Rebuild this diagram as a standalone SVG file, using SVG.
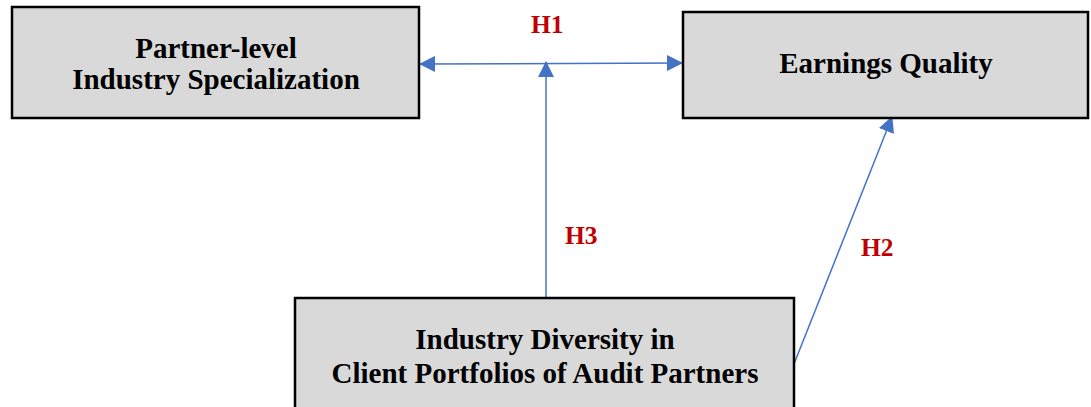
<svg xmlns="http://www.w3.org/2000/svg" width="1091" height="407" viewBox="0 0 1091 407">
<style>
.box{fill:#D9D9D9;stroke:#000;stroke-width:2.5}
.t{font-family:"Liberation Serif","Times New Roman",serif;font-weight:bold;font-size:29px;fill:#000;text-anchor:middle}
.h{font-family:"Liberation Serif","Times New Roman",serif;font-weight:bold;font-size:25.5px;fill:#C00000}
.c{stroke:#4472C4;stroke-width:1.5;fill:none}
</style>
<defs>
<marker id="ah" markerUnits="userSpaceOnUse" markerWidth="16" markerHeight="16" viewBox="0 0 16 16" refX="15" refY="8" orient="auto-start-reverse">
<path d="M0,0 L16,8 L0,16 Z" fill="#4472C4"/>
</marker>
</defs>
<rect width="1091" height="407" fill="#fff"/>
<g id="connectors">
<line class="c" x1="420" y1="64" x2="682" y2="63" marker-start="url(#ah)" marker-end="url(#ah)"/>
<line class="c" x1="546" y1="298" x2="546" y2="62" marker-end="url(#ah)"/>
<line class="c" x1="794" y1="364" x2="892" y2="117" marker-end="url(#ah)"/>
</g>
<g id="labels">
<text class="h" x="531" y="33">H1</text>
<text class="h" x="565" y="244">H3</text>
<text class="h" x="861" y="256">H2</text>
</g>
<g id="node-specialization">
<rect class="box" x="12" y="7" width="407" height="111"/>
<text class="t" x="216" y="58">Partner-level</text>
<text class="t" x="216" y="89">Industry Specialization</text>
</g>
<g id="node-earnings">
<rect class="box" x="683" y="12" width="405" height="106"/>
<text class="t" x="886" y="73">Earnings Quality</text>
</g>
<g id="node-diversity">
<rect class="box" x="295" y="298" width="499" height="120"/>
<text class="t" x="545" y="349">Industry Diversity in</text>
<text class="t" x="545" y="383">Client Portfolios of Audit Partners</text>
</g>
</svg>
